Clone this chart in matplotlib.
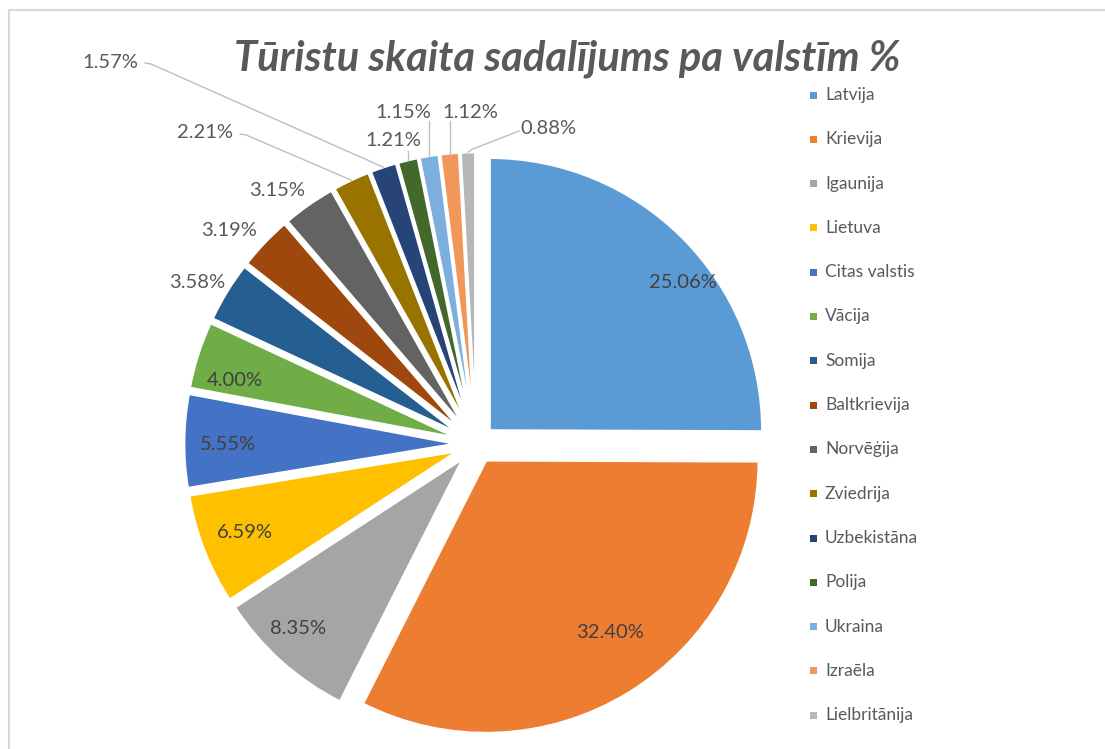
import matplotlib
matplotlib.use("Agg")
import numpy as np
import matplotlib.pyplot as plt
from matplotlib.patches import Rectangle

# data
countries = ['Latvija', 'Krievija', 'Igaunija', 'Lietuva', 'Citas valstis', 'Vācija',
             'Somija', 'Baltkrievija', 'Norvēģija', 'Zviedrija', 'Uzbekistāna', 'Polija',
             'Ukraina', 'Izraēla', 'Lielbritānija']
shares = [25.06, 32.40, 8.35, 6.59, 5.55, 4.00, 3.58, 3.19, 3.15, 2.21, 1.57, 1.21,
          1.15, 1.12, 0.88]
colors = ['#5B9BD5', '#ED7D31', '#A5A5A5', '#FFC000', '#4472C4', '#70AD47', '#255E91',
          '#9E480E', '#636363', '#997300', '#264478', '#43682B', '#7CAFDD', '#F1975A',
          '#B7B7B7']
title = 'Tūristu skaita sadalījums pa valstīm %'

W, H = 1105, 749
TXT = '#595959'
FONT = 'Lato'

fig = plt.figure(figsize=(W / 100, H / 100), dpi=100)
ax = fig.add_axes([0, 0, 1, 1])

def py(y):
    # pixel row (from top) -> data y
    return H - y

cx, cy, R = 476, 444, 273
wedges, _ = ax.pie(shares, colors=colors, startangle=90, counterclock=False,
                   explode=[19] * len(shares), center=(cx, py(cy)), radius=R,
                   wedgeprops=dict(edgecolor='white', linewidth=2), frame=True)
ax.set_xlim(0, W)
ax.set_ylim(0, H)
ax.axis('off')

# chart border
ax.plot([9, 9, W], [0, py(10), py(10)], color='#D9D9D9', lw=1.5)

def outer_point(w):
    tm = np.deg2rad((w.theta1 + w.theta2) / 2)
    x, y = w.center
    return x + w.r * np.cos(tm), y + w.r * np.sin(tm)

# labels inside the pie (pixel positions)
inside = {0: (683, 283), 1: (610, 632), 2: (298, 628), 3: (245, 533),
          4: (228, 445), 5: (235, 380)}
for i, (x, y) in inside.items():
    ax.text(x, py(y), f'{shares[i]:.2f}%', ha='center', va='center',
            fontsize=14.5, color='#404040', family=FONT)

# labels outside the pie
outside = {6: (197, 282), 7: (229, 230), 8: (277, 191), 9: (205, 133), 10: (110, 62),
           11: (393, 140), 12: (403, 112), 13: (470, 112), 14: (548, 129)}
for i, (x, y) in outside.items():
    ax.text(x, py(y), f'{shares[i]:.2f}%', ha='center', va='center',
            fontsize=14.5, color=TXT, family=FONT)

# leader lines: list of pixel points, ending at the wedge rim
leaders = {9: [(240, 134), (246, 135)], 10: [(145, 63), (151, 64)],
           11: [(None, 151)], 12: [(None, 121)], 13: [(None, 121)],
           14: [(519, 131), (473, 149)]}
for i, pts in leaders.items():
    ox, oy = outer_point(wedges[i])
    xs, ys = [], []
    for (x, y) in pts:
        xs.append(ox if x is None else x)
        ys.append(py(y))
    xs.append(ox)
    ys.append(oy)
    ax.plot(xs, ys, color='#BFBFBF', lw=1)

# title
ax.text(567, py(59), title, ha='center', va='center', fontsize=30,
        fontweight='bold', fontstyle='italic', color=TXT, family=FONT)

# legend
for k, (name, c) in enumerate(zip(countries, colors)):
    y = 95 + k * 44.3
    ax.add_patch(Rectangle((810, py(y) - 3.5), 7, 7, color=c, lw=0))
    ax.text(825, py(y), name, ha='left', va='center', fontsize=12.5,
            color=TXT, family=FONT)

fig.savefig('out.png', dpi=100)
